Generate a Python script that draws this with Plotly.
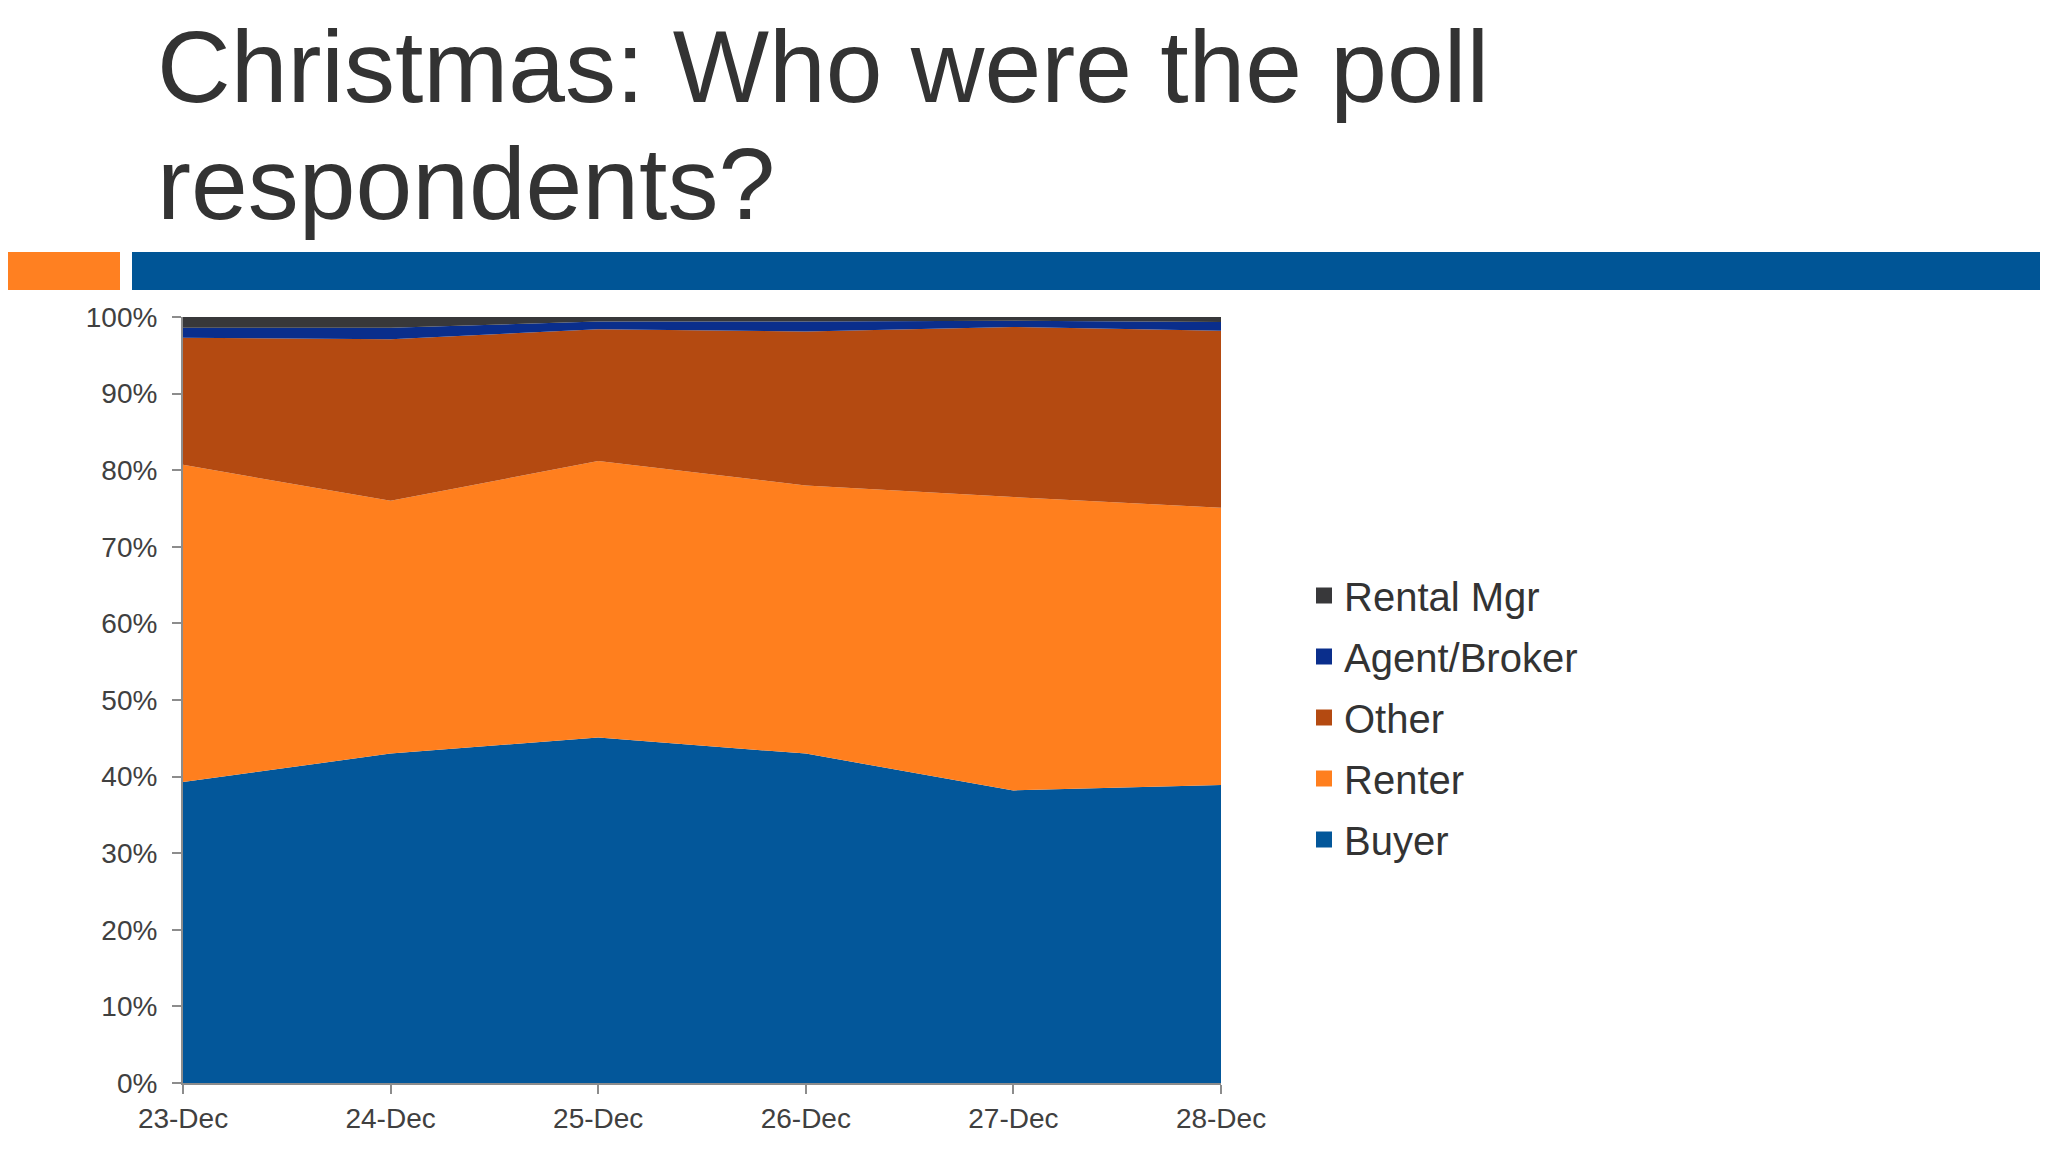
import plotly.graph_objects as go

# Share of poll respondents per day (%)
days = ["23-Dec", "24-Dec", "25-Dec", "26-Dec", "27-Dec", "28-Dec"]
buyer = [39.3, 43.0, 45.1, 43.0, 38.2, 38.9]
renter = [41.4, 33.0, 36.1, 35.0, 38.3, 36.2]
other = [16.6, 21.1, 17.2, 20.1, 22.2, 23.1]
agent_broker = [1.3, 1.5, 1.0, 1.3, 0.8, 1.15]
rental_mgr = [1.4, 1.4, 0.6, 0.6, 0.5, 0.65]

series = [
    ("Buyer", buyer, "#03579A"),
    ("Renter", renter, "#FF7F1E"),
    ("Other", other, "#B44A11"),
    ("Agent/Broker", agent_broker, "#0A2E8C"),
    ("Rental Mgr", rental_mgr, "#38383A"),
]

# the page body has an 8px margin, so the figure is a bit smaller and shifted
O = 8
W, H = 2048 - O, 1152 - O
L, T = 183 - O, 317 - O
R, B = W - (1221 - O), H - (1083 - O)
pw, ph = W - L - R, H - T - B


# page pixel -> paper helpers for the slide decorations
def px(x):
    return (x - O - L) / pw


def py(y):
    return (H - B - (y - O)) / ph


fig = go.Figure()
for name, vals, color in series:
    fig.add_trace(go.Scatter(
        x=days, y=vals, name=name, mode="none",
        stackgroup="one", groupnorm="percent",
        fillcolor=color, line=dict(width=0),
        showlegend=False, hoverinfo="x+y+name",
    ))

# legend entries with square swatches, top item first
for name, vals, color in reversed(series):
    fig.add_trace(go.Scatter(
        x=[None], y=[None], mode="markers", name=name,
        marker=dict(symbol="square", size=16, color=color),
        legendgroup=name,
    ))

font = "Liberation Sans, Arial, sans-serif"
axis_style = dict(
    showgrid=False, zeroline=False,
    showline=True, linecolor="#8C8C8C", linewidth=2,
    ticks="outside", ticklen=9, tickcolor="#8C8C8C", tickwidth=2,
    tickfont=dict(size=28, color="#404040"),
)

fig.update_layout(
    width=W, height=H,
    margin=dict(l=L, r=R, t=T, b=B),
    paper_bgcolor="white",
    plot_bgcolor="white",
    font=dict(family=font, color="#404040"),
    xaxis=dict(type="category", range=[0, 5], **axis_style),
    yaxis=dict(range=[0, 100], dtick=10, ticksuffix="%",
               ticklabelstandoff=9, **axis_style),
    legend=dict(
        xref="container", yref="container",
        x=(1304 - O) / W, y=1 - (563 - O) / H, xanchor="left", yanchor="top",
        traceorder="grouped", tracegroupgap=6,
        font=dict(size=40, color="#333333", family=font),
        itemsizing="trace",
        bgcolor="rgba(0,0,0,0)",
    ),
    showlegend=True,
)

# title lines
for text, ymid in [("Christmas: Who were the poll", 67), ("respondents?", 184)]:
    fig.add_annotation(
        xref="paper", yref="paper", x=px(155), y=py(ymid),
        xanchor="left", yanchor="middle", text=text, showarrow=False,
        font=dict(family=font, size=102, color="#333333"),
    )

# orange and blue header bars
fig.add_shape(type="rect", xref="paper", yref="paper",
              x0=px(0), x1=px(120), y0=py(290), y1=py(252),
              fillcolor="#FF8021", line=dict(width=0), layer="above")
fig.add_shape(type="rect", xref="paper", yref="paper",
              x0=px(132), x1=px(2048), y0=py(290), y1=py(252),
              fillcolor="#005596", line=dict(width=0), layer="above")

fig.write_html("out.html")
